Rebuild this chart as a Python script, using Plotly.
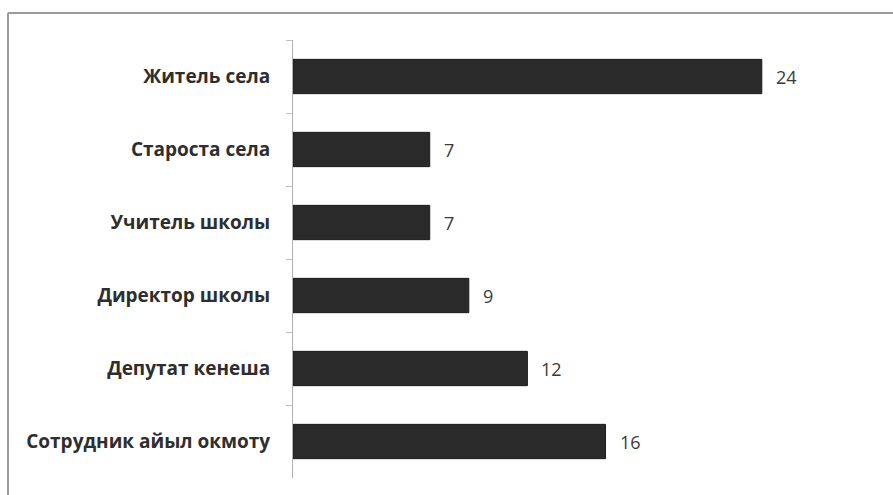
import plotly.graph_objects as go

categories = ["Житель села", "Староста села", "Учитель школы",
              "Директор школы", "Депутат кенеша", "Сотрудник айыл окмоту"]
values = [24, 7, 7, 9, 12, 16]

W, H = 893, 495
ML, MR, MT, MB = 293, 14, 40, 17
plot_w = W - ML - MR
plot_h = H - MT - MB

fig = go.Figure(go.Bar(
    x=values,
    y=categories,
    orientation="h",
    marker=dict(color="#2a2a2a", line=dict(color="#1c1c1c", width=1)),
    width=0.47,
    hoverinfo="x+y",
))

# value labels just past the end of each bar
for c, v in zip(categories, values):
    fig.add_annotation(x=v, y=c, text=str(v), showarrow=False,
                       xanchor="left", xshift=12,
                       font=dict(family="Open Sans, sans-serif", size=18, color="#3a3a3a"))

# outer frame (top and left edges)
def px_to_paper_x(px):
    return (px - ML) / plot_w

def px_to_paper_y(py):
    return (H - MB - py) / plot_h

frame = dict(color="#9a9a9a", width=2)
fig.add_shape(type="line", xref="paper", yref="paper",
              x0=px_to_paper_x(8), x1=px_to_paper_x(W + 5),
              y0=px_to_paper_y(13), y1=px_to_paper_y(13), line=frame)
fig.add_shape(type="line", xref="paper", yref="paper",
              x0=px_to_paper_x(8), x1=px_to_paper_x(8),
              y0=px_to_paper_y(13), y1=px_to_paper_y(H + 5), line=frame)

fig.update_layout(
    width=W, height=H,
    margin=dict(l=ML, r=MR, t=MT, b=MB),
    paper_bgcolor="white", plot_bgcolor="white",
    showlegend=False,
    xaxis=dict(range=[0, 30], visible=False, fixedrange=True),
    yaxis=dict(
        categoryorder="array", categoryarray=categories,
        autorange="reversed",
        showline=True, linecolor="#b0b0b0", linewidth=1,
        ticks="outside", tickson="boundaries", ticklen=6, tickcolor="#c0c0c0",
        ticklabelstandoff=18,
        tickfont=dict(family="Open Sans, sans-serif", size=19, color="#2e2e2e",
                      weight="bold"),
        showgrid=False, fixedrange=True,
    ),
)

fig.write_html("out.html")
